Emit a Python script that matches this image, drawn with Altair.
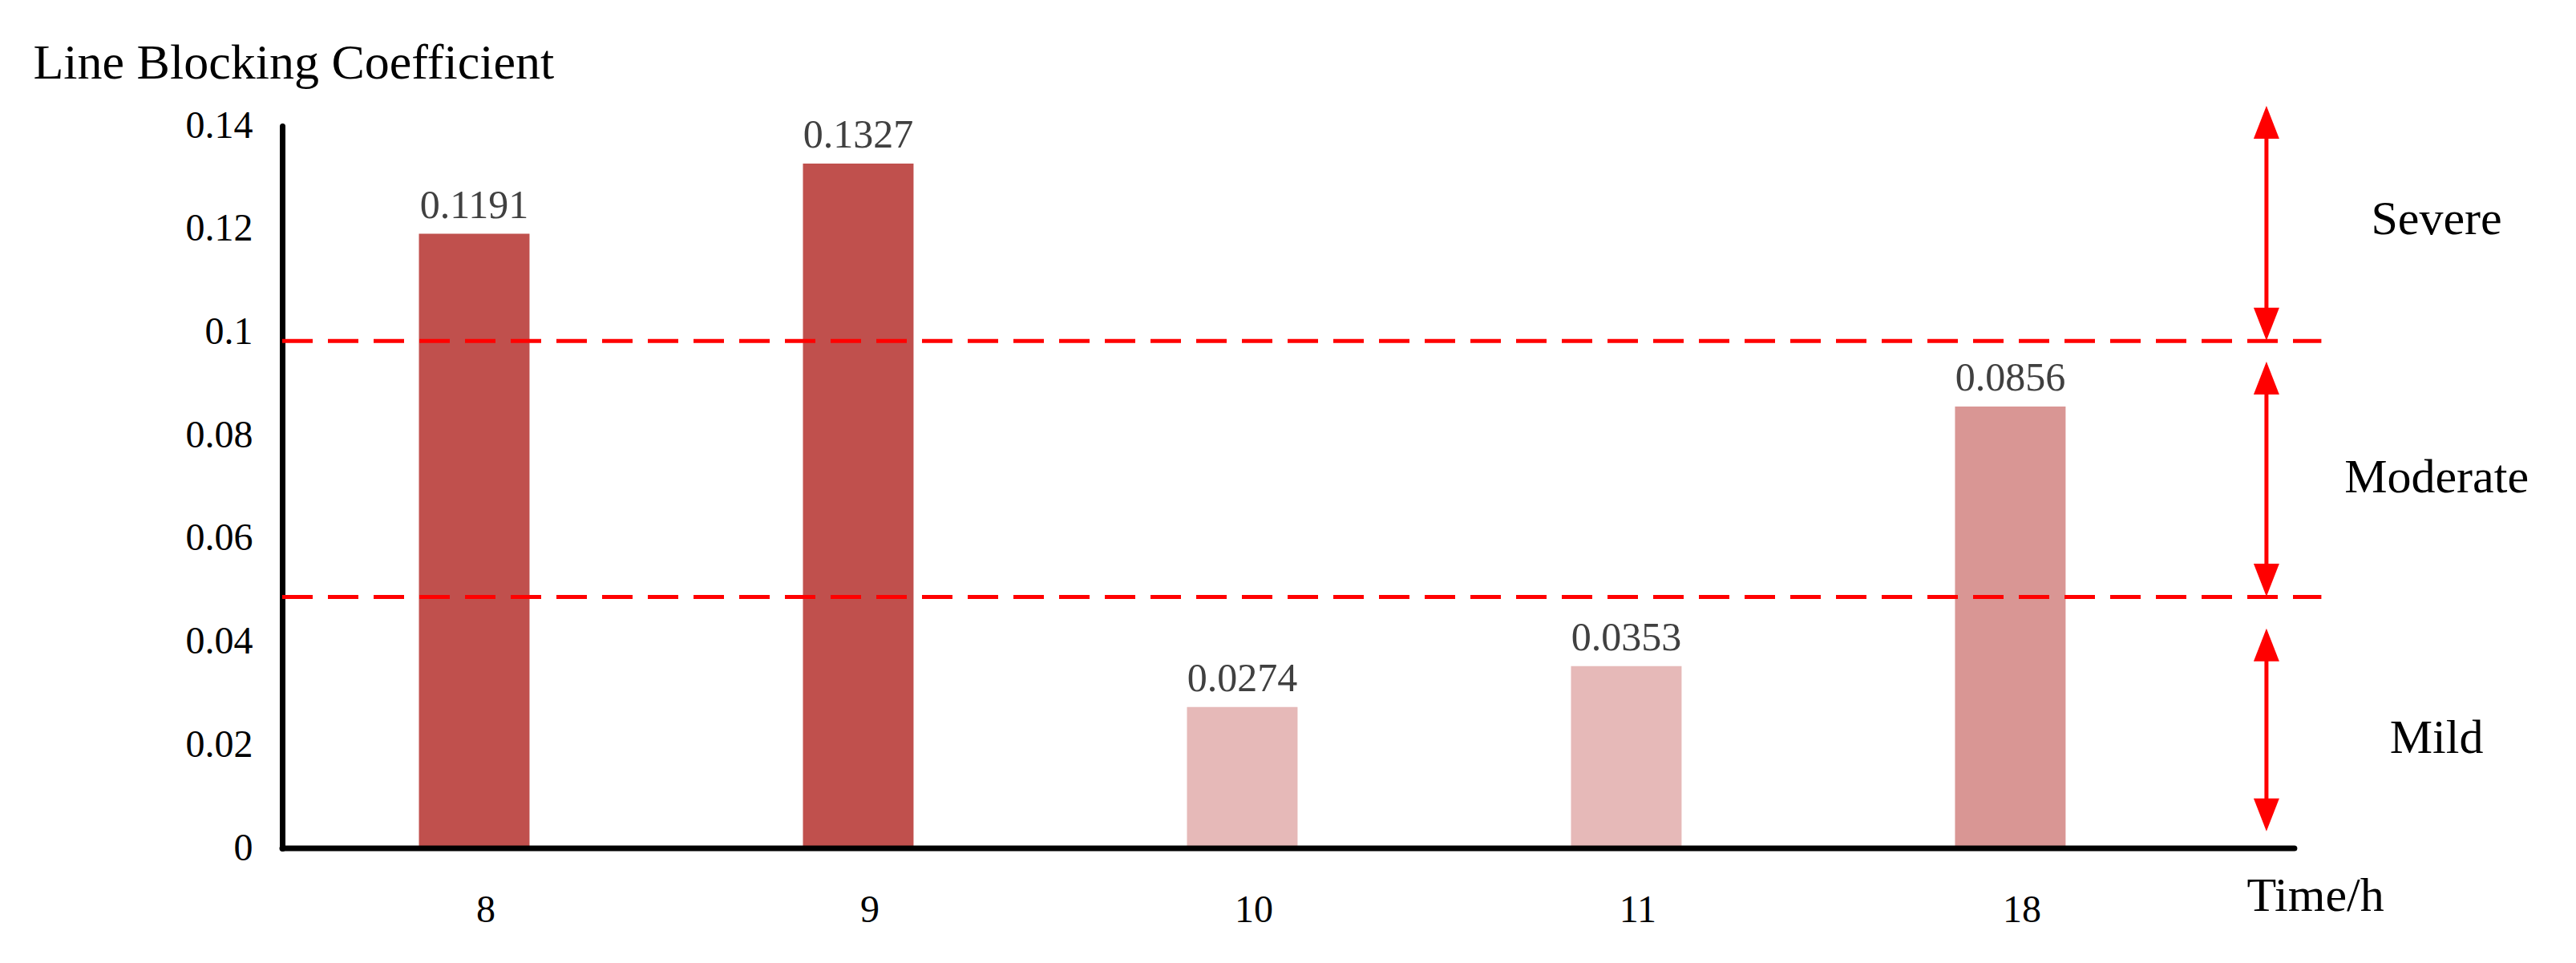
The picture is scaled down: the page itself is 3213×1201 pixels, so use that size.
import altair as alt
import pandas as pd

# ---- data ----
hours = [8, 9, 10, 11, 18]
coeffs = [0.1191, 0.1327, 0.0274, 0.0353, 0.0856]
y_ticks = [0, 0.02, 0.04, 0.06, 0.08, 0.1, 0.12, 0.14]
thresholds = [0.0983, 0.0487]          # red dashed level lines
levels = ["Severe", "Moderate", "Mild"]
level_label_y = [0.1218, 0.0718, 0.0213]
arrow_top = [0.1439, 0.0943, 0.0426]
arrow_bottom = [0.0984, 0.0488, 0.0033]
level_colors = ["#C0504D", "#D99694", "#E6B9B8"]

FONT = "Liberation Serif"
RED = "#FF0000"

# x positions in "slot" units (one slot per hour category)
X_MIN, X_MAX = -0.5, 5.4
X_AXIS_END = 4.74
DASH_END = 4.81
ARROW_X = 4.667
LEVEL_X = 5.11
HALF_BAR = 0.144

x_scale = alt.Scale(domain=[X_MIN, X_MAX], nice=False, zero=False)
y_scale = alt.Scale(domain=[0, 0.14], nice=False, zero=False)

label_expr = "[" + ",".join(f"'{h}'" for h in hours) + "][datum.value]"

x_axis = alt.Axis(
    values=list(range(len(hours))), labelExpr=label_expr,
    labelFont=FONT, labelFontSize=48, labelColor="black",
    labelPadding=53, labelOffset=14, ticks=False, tickSize=0,
    domain=False, grid=False, labelFlush=False, labelOverlap=False,
    title="Time/h", titleFont=FONT, titleFontSize=60, titleFontWeight="normal",
    titleColor="black", titleAlign="left", titleBaseline="alphabetic",
    titleX=2450, titleY=77)
y_axis = alt.Axis(
    values=y_ticks, format="~g",
    labelFont=FONT, labelFontSize=48, labelColor="black",
    labelPadding=37, ticks=False, tickSize=0, grid=False,
    domain=True, domainColor="black", domainWidth=7, domainCap="round",
    labelFlush=False, labelOverlap=False,
    title="Line Blocking Coefficient", titleFont=FONT, titleFontSize=62,
    titleFontWeight="normal", titleColor="black", titleAngle=0,
    titleAlign="left", titleBaseline="alphabetic", titleX=-311, titleY=-60)


def X(field):
    return alt.X(field, type="quantitative", scale=x_scale, axis=x_axis)


def Y(field):
    return alt.Y(field, type="quantitative", scale=y_scale, axis=y_axis)


bars_df = pd.DataFrame({"slot": list(range(len(hours))), "hour": hours, "value": coeffs})
level_expr = (f"datum.value >= {thresholds[0]} ? '{levels[0]}' : "
              f"datum.value >= {thresholds[1]} ? '{levels[1]}' : '{levels[2]}'")

base = alt.Chart(bars_df).transform_calculate(
    x0=f"datum.slot - {HALF_BAR}", x1=f"datum.slot + {HALF_BAR}", zero="0", level=level_expr
)

bars = base.mark_rect().encode(
    x=X("x0"), x2="x1:Q",
    y=Y("value"), y2="zero:Q",
    color=alt.Color("level:N", scale=alt.Scale(domain=levels, range=level_colors), legend=None),
)

value_labels = base.mark_text(
    font=FONT, fontSize=50, color="#404040", baseline="alphabetic", dy=-20
).encode(
    x=X("slot"), y=Y("value"),
    text=alt.Text("value:Q", format=".4f"),
)

dash_df = pd.DataFrame({"t": thresholds, "x0": [X_MIN] * len(thresholds), "x1": [DASH_END] * len(thresholds)})
dashes = alt.Chart(dash_df).mark_rule(color=RED, strokeWidth=5, strokeDash=[38, 19]).encode(
    x=X("x0"), x2="x1:Q", y=Y("t"),
)

xaxis_df = pd.DataFrame({"x0": [X_MIN], "x1": [X_AXIS_END], "y": [0.0]})
xaxis_line = alt.Chart(xaxis_df).mark_rule(color="black", strokeWidth=7, strokeCap="round").encode(
    x=X("x0"), x2="x1:Q", y=Y("y"),
)

arrow_df = pd.DataFrame({"top": arrow_top, "bottom": arrow_bottom, "x": [ARROW_X] * len(arrow_top)})
shafts = alt.Chart(arrow_df).mark_rule(color=RED, strokeWidth=5, yOffset=20, y2Offset=-20).encode(
    x=X("x"), y=Y("top"), y2="bottom:Q",
)
UP = "M0,0 L-0.78,2 L0.78,2 Z"
DOWN = "M0,0 L-0.78,-2 L0.78,-2 Z"
heads_up = alt.Chart(arrow_df).mark_point(
    shape=UP, size=1681, filled=True, color=RED, opacity=1, strokeWidth=0
).encode(x=X("x"), y=Y("top"))
heads_down = alt.Chart(arrow_df).mark_point(
    shape=DOWN, size=1681, filled=True, color=RED, opacity=1, strokeWidth=0
).encode(x=X("x"), y=Y("bottom"))

level_df = pd.DataFrame({"level": levels, "y": level_label_y, "x": [LEVEL_X] * len(levels)})
level_text = alt.Chart(level_df).mark_text(
    font=FONT, fontSize=60, color="black", align="center", baseline="middle"
).encode(x=X("x"), y=Y("y"), text="level:N")

chart = alt.layer(
    bars, value_labels, dashes, xaxis_line, shafts, heads_up, heads_down, level_text
).properties(
    width=2826, height=901,
    background="white",
    autosize=alt.AutoSizeParams(type="none"),
    padding={"left": 344, "top": 149, "right": 20, "bottom": 130},
).configure_view(stroke=None)

chart.save("out.html", embed_options={"renderer": "svg", "actions": False})
